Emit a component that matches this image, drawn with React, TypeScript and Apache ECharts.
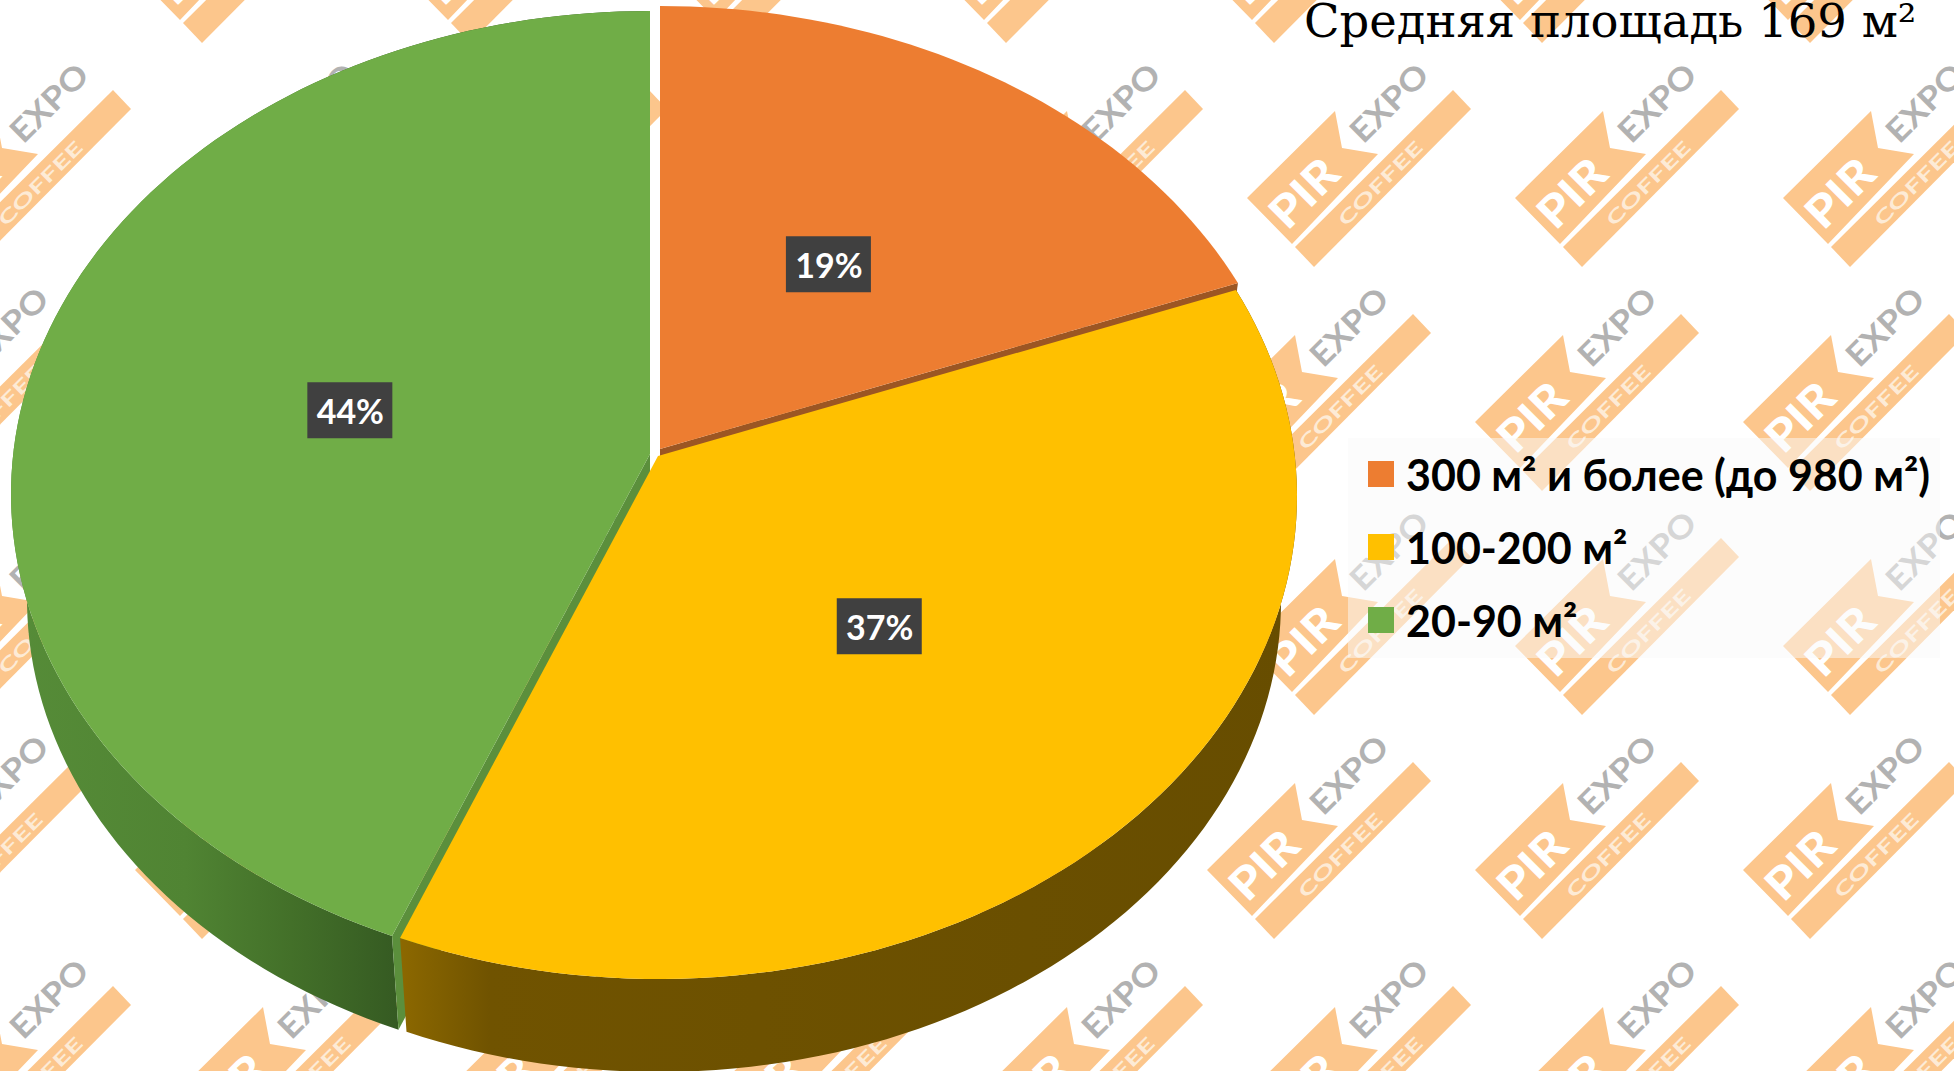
import React, { useEffect, useRef } from "react";
import * as echarts from "echarts";

const categories = ["300 м² и более (до 980 м²)", "100-200 м²", "20-90 м²"];
const shares = [19.2, 36.9, 43.9];
const titleText = "Средняя площадь 169 м²";
const topColors = ["#ed7d31", "#ffc000", "#70ad47"];
const innerWallColors = ["#9c5623", "", "#5b8f3c"];
const sliceCenters = [[660, 489], [658, 496], [650, 494]];

const RX = 639, RY = 483, APEX = -40 / 483, DEPTH = 105, BOTTOM_SCALE = 0.975, LABEL_R = 0.483;
const AX = RX * Math.sqrt(1 - APEX * APEX);
const total = shares.reduce((a, b) => a + b, 0);

function pt(i: number, frac: number, turn: number, bottom = false): number[] {
  const t = turn * Math.PI * 2;
  const u = frac * Math.sin(t), v = -frac * Math.cos(t);
  const den = 1 + APEX * v;
  const X = (AX * u) / den, Y = (RY * (v + APEX)) / den;
  const [cx, cy] = sliceCenters[i];
  return bottom ? [cx + X * BOTTOM_SCALE, cy + DEPTH + Y * BOTTOM_SCALE] : [cx + X, cy + Y];
}
function rim(i: number, a: number, b: number, bottom = false) {
  const n = Math.max(8, Math.ceil((b - a) * 240));
  const out: number[][] = [];
  for (let k = 0; k <= n; k++) out.push(pt(i, 1, a + ((b - a) * k) / n, bottom));
  return out;
}
function sliceRange(i: number) {
  const a = shares.slice(0, i).reduce((s, v) => s + v, 0) / total;
  return [a, a + shares[i] / total];
}

function renderSlice(i: number) {
  const [a, b] = sliceRange(i);
  const kids: any[] = [];
  if (i === 2) {
    kids.push({
      type: "polygon",
      shape: { points: [...rim(i, a, b), ...rim(i, a, b, true).reverse()] },
      style: {
        fill: new echarts.graphic.LinearGradient(10, 0, 400, 0, [
          { offset: 0, color: "#568c38" },
          { offset: 0.45, color: "#508433" },
          { offset: 0.72, color: "#437029" },
          { offset: 1, color: "#355a22" },
        ], true),
      },
    });
  }
  if (i === 1) {
    kids.push({
      type: "polygon",
      shape: { points: [...rim(i, a, b), ...rim(i, a, b, true).reverse()] },
      style: {
        fill: new echarts.graphic.LinearGradient(400, 0, 1297, 0, [
          { offset: 0, color: "#8c6800" },
          { offset: 0.1, color: "#705300" },
          { offset: 1, color: "#674d00" },
        ], true),
      },
    });
  }
  if (innerWallColors[i]) {
    const edge = i === 0 ? b : a;
    kids.push({
      type: "polygon",
      shape: { points: [pt(i, 0, 0), pt(i, 1, edge), pt(i, 1, edge, true), pt(i, 0, 0, true)] },
      style: { fill: innerWallColors[i] },
    });
  }
  kids.push({
    type: "polygon",
    shape: { points: [pt(i, 0, 0), ...rim(i, a, b)] },
    style: { fill: topColors[i] },
  });
  const [lx, ly] = pt(i, LABEL_R, (a + b) / 2);
  kids.push({
    type: "rect",
    shape: { x: lx - 43, y: ly - 28, width: 85, height: 56 },
    style: { fill: "#404040" },
  });
  kids.push({
    type: "text",
    x: lx,
    y: ly,
    style: {
      text: `${Math.round(shares[i])}%`,
      fill: "#ffffff",
      font: "bold 34px Lato",
      align: "center",
      verticalAlign: "middle",
    },
  });
  return { type: "group", children: kids };
}

const WM_X0 = 1247, WM_Y0 = 198, WM_DX = 268, WM_DY = 224, WM_SHIFT = -40;
const WM_ORANGE = "#fcc68c";
function watermark(x: number, y: number) {
  const d45 = Math.PI / 4;
  return {
    type: "group",
    x,
    y,
    silent: true,
    children: [
      { type: "polygon", shape: { points: [[0, 0], [88, -87], [95, -50], [131, -44], [45, 46]] }, style: { fill: WM_ORANGE } },
      { type: "polygon", shape: { points: [[48, 49], [206, -108], [224, -89], [67, 69]] }, style: { fill: WM_ORANGE } },
      { type: "text", x: 56, y: -6, rotation: d45, scaleX: 1.12, style: { text: "PIR", fill: "#ffffff", font: "900 44px Lato", align: "center", verticalAlign: "middle" } },
      { type: "text", x: 133, y: -15, rotation: d45, scaleX: 1.65, style: { text: "COFFEE", fill: "#fdebd6", font: "bold 18px Lato", align: "center", verticalAlign: "middle" } },
      { type: "text", x: 141, y: -96, rotation: d45, scaleX: 1.12, style: { text: "EXPO", fill: "#b2b2b2", font: "bold 32px Lato", align: "center", verticalAlign: "middle" } },
    ],
  };
}
function watermarks() {
  const out: any[] = [];
  for (let r = -1; r <= 4; r++) {
    const shift = ((r % 2) + 2) % 2 === 0 ? 0 : WM_SHIFT;
    for (let c = -6; c <= 2; c++) out.push(watermark(WM_X0 + c * WM_DX + shift, WM_Y0 + r * WM_DY));
  }
  return out;
}

// draw order: orange, green, yellow
const drawOrder = [0, 2, 1];

export default function App() {
  const ref = useRef<HTMLDivElement>(null);
  useEffect(() => {
    document.body.style.margin = "0";
    document.body.style.background = "#ffffff";
    document.body.style.overflow = "hidden";
    const chart = echarts.init(ref.current!, undefined, { renderer: "svg" });
    chart.setOption({
      animation: false,
      backgroundColor: "#ffffff",
      title: {
        text: titleText,
        left: 1304,
        top: -3,
        padding: 0,
        textStyle: { fontFamily: "DejaVu Serif", fontWeight: "normal", fontSize: 46.5, color: "#000000" },
      },
      legend: {
        orient: "vertical",
        left: 1368,
        top: 451,
        padding: 0,
        itemWidth: 26,
        itemHeight: 26,
        itemGap: 27,
        icon: "rect",
        data: categories,
        selectedMode: false,
        textStyle: { fontFamily: "Lato", fontWeight: "bold", fontSize: 43, color: "#000000", lineHeight: 46, padding: [0, 0, 0, 7] },
      },
      graphic: {
        elements: [
          ...watermarks(),
          { type: "rect", silent: true, shape: { x: 1348, y: 438, width: 592, height: 220 }, style: { fill: "rgba(249,249,249,0.5)" } },
        ],
      },
      series: drawOrder.map((i) => ({
        type: "custom",
        name: categories[i],
        coordinateSystem: "none",
        silent: true,
        itemStyle: { color: topColors[i] },
        data: [shares[i]],
        renderItem: () => renderSlice(i),
      })),
    });
    return () => chart.dispose();
  }, []);
  return <div ref={ref} style={{ width: 1954, height: 1071 }} />;
}
